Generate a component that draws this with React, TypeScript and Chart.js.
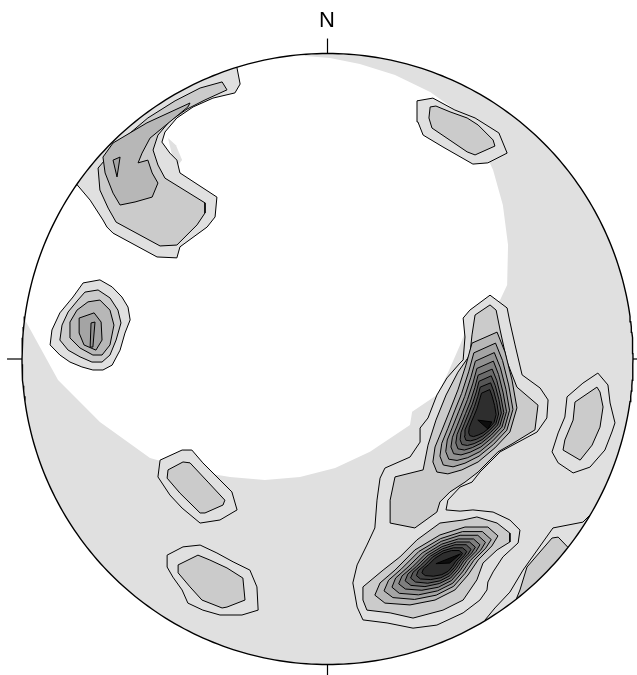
import React, { useEffect, useRef } from 'react';
import { Chart, registerables } from 'chart.js';

Chart.register(...registerables);

type Pt = [number, number];

// Stereonet coordinates: primitive circle radius = 100, centre = (0, 0), north up.
const NORTH_LABEL = 'N';

// Region below the lowest density level (white)
const whiteRegion: Pt[] = [[-9.0,117.5],[-7.4,99.2],[0.8,98.5],[10.6,96.6],[22.1,93.0],[33.6,87.4],[42.7,80.9],[49.3,72.3],[54.2,61.9],[57.4,50.4],[59.1,37.3],[58.8,24.2],[56.5,19.3],[46.6,12.8],[43.4,4.6],[39.1,-5.2],[35.8,-11.8],[27.7,-17.3],[27.0,-21.6],[13.9,-30.4],[2.5,-35.7],[-9.0,-38.6],[-20.5,-39.6],[-31.9,-38.6],[-41.7,-37.0],[-58.1,-32.4],[-74.5,-20.6],[-88.2,-6.9],[-99.0,12.8],[-115,20],[-115,118]];
const ulShadow: Pt[] = [[-52.2,72.3],[-49.6,70.0],[-47.6,65.1],[-48.9,63.5],[-50.9,66.8]];

// Upper-left cluster (NW)
const ulL1: Pt[] = [[-82.7,57.9],[-87.6,68.4],[-58.1,97.9],[-30.0,97.2],[-28.6,90.0],[-30.3,87.1],[-37.5,85.4],[-44.0,82.5],[-49.3,78.9],[-53.2,74.3],[-54.2,71.0],[-51.6,67.4],[-49.3,65.1],[-48.3,60.9],[-36.2,53.0],[-36.8,46.5],[-39.4,43.2],[-48.3,36.7],[-49.3,33.1],[-55.8,33.4],[-70.2,41.2],[-72.2,43.2],[-73.5,45.5],[-77.7,52.0]];
const ulL2: Pt[] = [[-75.1,62.5],[-67.3,71.7],[-58.8,78.9],[-49.9,84.5],[-41.7,88.7],[-34.5,90.7],[-32.9,88.1],[-40.1,84.8],[-46.0,81.8],[-51.6,77.9],[-55.5,73.3],[-57.1,68.4],[-55.5,63.5],[-53.2,59.2],[-40.1,51.1],[-40.1,47.8],[-42.7,43.9],[-49.3,37.3],[-54.8,37.0],[-69.2,44.8],[-71.8,49.4],[-74.5,55.3]];
const ulL3: Pt[] = [[-73.5,66.1],[-70.2,70.7],[-59.1,77.3],[-45.0,83.8],[-45.7,82.5],[-58.1,72.3],[-60.7,67.4],[-62.0,64.2],[-58.8,65.1],[-57.4,60.9],[-55.5,57.6],[-57.4,53.0],[-63.0,51.4],[-67.9,50.4],[-70.2,54.3],[-72.8,60.9]];
const ulL4: Pt[] = [[-70.2,65.1],[-67.9,66.1],[-68.9,59.6]];

// North-east small cluster
const trL1: Pt[] = [[29.3,84.5],[34.5,85.4],[41.7,81.5],[48.3,78.9],[56.1,74.0],[58.8,67.4],[52.5,64.2],[47.6,63.8],[37.8,69.4],[31.3,73.3],[29.6,77.6]];
const trL2: Pt[] = [[33.6,82.5],[35.5,82.8],[40.1,80.9],[45.7,78.9],[49.3,76.6],[54.2,71.7],[54.8,69.7],[48.3,66.8],[45.7,67.8],[34.2,75.6],[33.2,78.9]];

// West cluster
const wL1: Pt[] = [[-80.0,24.9],[-74.5,25.9],[-70.5,23.6],[-67.3,20.3],[-65.3,17.0],[-64.6,12.8],[-66.3,8.5],[-67.9,2.9],[-70.5,-2.0],[-73.5,-3.6],[-76.8,-3.6],[-80.4,-2.6],[-84.3,-1.0],[-87.6,1.3],[-90.8,4.6],[-90.2,9.5],[-87.6,15.1],[-83.3,20.3]];
const wL2: Pt[] = [[-79.4,21.9],[-75.1,22.6],[-71.2,20.0],[-68.6,16.0],[-67.6,11.8],[-69.2,6.2],[-71.2,1.3],[-73.8,-1.0],[-77.1,-1.0],[-81.0,0.7],[-84.9,2.9],[-87.6,6.2],[-86.9,11.1],[-84.9,15.4],[-81.7,19.3]];
const wL3: Pt[] = [[-78.4,18.7],[-74.5,19.3],[-71.2,16.0],[-69.9,11.1],[-71.2,4.6],[-73.8,1.3],[-76.8,1.3],[-81.0,3.6],[-84.3,6.9],[-84.3,12.1],[-82.0,16.0]];
const wL4: Pt[] = [[-81.3,13.4],[-76.4,15.1],[-74.1,12.1],[-73.8,6.2],[-75.8,2.9],[-79.7,4.6],[-81.3,8.5]];
const wL5: Pt[] = [[-77.4,11.8],[-76.1,12.1],[-76.8,3.9],[-77.7,3.9]];

// Main east cluster, joined at level 1 with the south-east cluster
const cL1: Pt[] = [[53.2,20.9],[58.8,16.7],[59.7,12.1],[61.4,4.6],[63.7,-5.2],[69.6,-9.5],[72.2,-13.4],[71.8,-19.3],[68.6,-23.9],[56.5,-30.4],[49.9,-37.0],[47.3,-40.3],[43.4,-41.9],[39.4,-46.2],[38.8,-49.4],[43.4,-49.8],[47.6,-49.4],[54.2,-50.1],[59.7,-52.7],[63.0,-56.0],[62.4,-60.2],[57.4,-64.8],[54.2,-69.7],[52.5,-73.0],[52.2,-75.6],[49.9,-78.9],[44.4,-83.1],[35.8,-87.1],[28.0,-88.1],[19.5,-86.4],[11.6,-85.4],[9.7,-81.2],[8.3,-73.3],[9.7,-67.4],[12.9,-60.9],[15.5,-55.3],[16.2,-46.2],[17.2,-39.0],[18.8,-35.7],[27.0,-32.1],[30.3,-27.2],[30.3,-22.6],[32.9,-19.3],[35.8,-11.8],[39.1,-6.2],[43.4,-1.3],[44.4,-0.3],[45.0,7.2],[44.4,13.4],[46.6,16.0]];
const cL2: Pt[] = [[53.2,17.7],[55.2,16.0],[56.5,9.5],[58.8,-1.0],[62.0,-9.2],[68.9,-15.1],[67.9,-23.2],[60.4,-27.8],[55.8,-30.4],[49.3,-37.0],[45.0,-40.3],[40.1,-43.5],[36.8,-46.8],[35.8,-50.1],[28.6,-55.3],[20.5,-53.7],[20.5,-46.2],[22.1,-38.6],[31.3,-36.3],[32.9,-28.2],[35.5,-20.0],[38.8,-11.8],[42.7,-4.3],[46.6,1.3],[47.3,7.9],[48.3,14.4]];
const cL3: Pt[] = [[47.3,5.2],[55.5,8.8],[58.1,2.3],[60.4,-6.9],[62.0,-16.0],[59.7,-23.9],[54.8,-29.1],[49.3,-33.7],[44.0,-36.3],[39.4,-37.6],[35.8,-37.0],[34.5,-33.7],[35.2,-28.8],[37.5,-23.2],[40.1,-16.7],[42.7,-10.1],[45.3,-2.0]];
const cL4: Pt[] = [[47.9,2.0],[55.0,5.2],[57.3,-0.5],[59.3,-8.5],[60.7,-16.5],[58.7,-23.3],[54.4,-27.9],[49.6,-31.8],[45.0,-34.1],[41.1,-35.3],[37.9,-34.7],[36.8,-31.8],[37.4,-27.6],[39.4,-22.7],[41.6,-17.0],[43.9,-11.3],[46.2,-4.2]];
const cL5: Pt[] = [[48.4,-0.7],[54.6,2.1],[56.6,-2.9],[58.4,-9.9],[59.6,-16.8],[57.9,-22.8],[54.1,-26.8],[49.9,-30.3],[45.9,-32.3],[42.4,-33.2],[39.7,-32.8],[38.7,-30.3],[39.2,-26.5],[40.9,-22.3],[42.9,-17.3],[44.9,-12.3],[46.9,-6.1]];
const cL6: Pt[] = [[48.9,-3.1],[54.3,-0.7],[56.0,-5.1],[57.5,-11.1],[58.6,-17.2],[57.1,-22.3],[53.8,-25.8],[50.2,-28.8],[46.7,-30.5],[43.7,-31.4],[41.3,-31.0],[40.4,-28.8],[40.9,-25.6],[42.4,-21.9],[44.1,-17.6],[45.8,-13.3],[47.6,-7.9]];
const cL7: Pt[] = [[49.3,-5.3],[53.9,-3.3],[55.4,-7.0],[56.7,-12.2],[57.7,-17.5],[56.4,-21.9],[53.6,-24.9],[50.4,-27.5],[47.4,-29.0],[44.8,-29.8],[42.7,-29.4],[42.0,-27.5],[42.4,-24.7],[43.7,-21.6],[45.2,-17.8],[46.7,-14.1],[48.2,-9.4]];
const cL8: Pt[] = [[49.6,-7.3],[53.6,-5.5],[54.9,-8.7],[56.1,-13.2],[56.9,-17.7],[55.7,-21.6],[53.3,-24.1],[50.6,-26.4],[48.0,-27.7],[45.8,-28.3],[44.0,-28.0],[43.4,-26.4],[43.7,-24.0],[44.8,-21.2],[46.1,-18.0],[47.4,-14.8],[48.7,-10.8]];
const cL9: Pt[] = [[50.0,-9.2],[53.4,-7.8],[54.4,-10.5],[55.4,-14.2],[56.0,-18.0],[55.1,-21.2],[53.1,-23.3],[50.8,-25.2],[48.7,-26.3],[46.8,-26.8],[45.3,-26.6],[44.8,-25.2],[45.0,-23.2],[46.0,-20.9],[47.1,-18.2],[48.1,-15.6],[49.2,-12.2]];
const cL10: Pt[] = [[50.4,-11.2],[53.1,-10.0],[53.9,-12.2],[54.7,-15.2],[55.2,-18.2],[54.5,-20.8],[52.9,-22.6],[51.0,-24.1],[49.3,-24.9],[47.8,-25.4],[46.6,-25.1],[46.2,-24.1],[46.4,-22.4],[47.1,-20.6],[48.0,-18.5],[48.9,-16.3],[49.7,-13.6]];
const cL11: Pt[] = [[49.2,-20.0],[53.8,-20.6],[52.5,-22.9]];

// East small cluster
const rL1: Pt[] = [[88.5,-4.6],[91.8,-8.5],[92.5,-14.4],[94.1,-20.9],[93.1,-23.9],[90.8,-29.8],[85.9,-35.4],[80.4,-37.3],[75.5,-34.0],[73.5,-30.4],[75.5,-24.2],[77.7,-19.0],[78.4,-12.4],[83.6,-7.9]];
const rL2: Pt[] = [[88.2,-9.2],[89.2,-10.8],[90.2,-15.7],[89.2,-22.3],[86.6,-28.2],[82.7,-33.1],[77.1,-29.8],[77.7,-26.5],[80.4,-20.0],[81.0,-14.1]];

// South-west small clusters
const bl1L1: Pt[] = [[-54.8,-33.1],[-47.6,-29.8],[-44.4,-29.8],[-40.8,-34.0],[-31.3,-43.5],[-29.6,-49.4],[-35.2,-52.7],[-41.7,-53.7],[-47.6,-48.8],[-51.6,-44.5],[-55.5,-38.6]];
const bl1L2: Pt[] = [[-52.2,-36.3],[-47.3,-33.7],[-45.0,-34.0],[-39.1,-40.3],[-33.6,-46.2],[-34.2,-47.8],[-40.1,-50.4],[-41.7,-50.4],[-48.3,-43.9],[-52.5,-39.0]];
const bl2L1: Pt[] = [[-52.5,-64.2],[-47.3,-61.5],[-41.7,-60.9],[-36.2,-63.5],[-30.9,-66.4],[-25.4,-69.1],[-23.1,-74.6],[-22.7,-82.2],[-28.0,-83.8],[-35.2,-83.8],[-40.8,-82.2],[-45.7,-79.9],[-47.6,-75.6],[-50.6,-71.4],[-52.5,-68.1]];
const bl2L2: Pt[] = [[-48.9,-67.4],[-42.4,-64.2],[-38.5,-65.8],[-32.9,-68.4],[-27.7,-71.7],[-27.0,-78.9],[-32.9,-81.2],[-34.5,-81.5],[-41.1,-78.9],[-45.0,-74.6],[-48.9,-70.0]];

// South-east cluster
const bL2: Pt[] = [[36.8,-53.7],[44.4,-52.7],[48.9,-51.7],[55.5,-53.7],[59.7,-57.0],[59.7,-59.9],[55.5,-62.5],[50.9,-66.8],[48.9,-72.3],[44.4,-78.9],[37.8,-82.2],[28.0,-84.8],[20.5,-83.1],[12.9,-82.2],[11.6,-78.9],[11.6,-74.6],[18.2,-69.1],[23.7,-64.8],[29.3,-59.2]];
const bL3: Pt[] = [[22.1,-69.1],[28.6,-62.5],[36.8,-57.6],[45.0,-55.0],[52.5,-55.0],[55.8,-57.9],[53.8,-61.2],[49.3,-65.8],[46.0,-70.7],[41.7,-75.6],[35.2,-78.9],[27.0,-80.5],[18.8,-79.9],[15.5,-77.3],[17.2,-73.3]];
const bL4: Pt[] = [[24.2,-68.7],[29.9,-63.0],[37.0,-58.8],[44.2,-56.5],[50.7,-56.5],[53.6,-59.1],[51.8,-61.9],[47.9,-65.9],[45.0,-70.2],[41.3,-74.4],[35.6,-77.3],[28.5,-78.7],[21.4,-78.1],[18.5,-75.9],[20.0,-72.4]];
const bL5: Pt[] = [[26.0,-68.4],[31.0,-63.5],[37.2,-59.7],[43.4,-57.7],[49.2,-57.7],[51.7,-60.0],[50.2,-62.5],[46.7,-66.0],[44.2,-69.7],[41.0,-73.4],[36.0,-75.9],[29.8,-77.2],[23.5,-76.7],[21.1,-74.7],[22.3,-71.7]];
const bL6: Pt[] = [[27.7,-68.2],[32.0,-63.9],[37.4,-60.6],[42.8,-58.9],[47.8,-58.9],[49.9,-60.8],[48.6,-63.0],[45.6,-66.0],[43.4,-69.3],[40.6,-72.5],[36.3,-74.7],[30.9,-75.7],[25.5,-75.3],[23.3,-73.6],[24.4,-71.0]];
const bL7: Pt[] = [[29.1,-67.9],[32.9,-64.2],[37.5,-61.4],[42.2,-59.9],[46.5,-59.9],[48.4,-61.6],[47.2,-63.5],[44.6,-66.1],[42.8,-68.9],[40.3,-71.7],[36.6,-73.5],[31.9,-74.5],[27.3,-74.1],[25.4,-72.6],[26.3,-70.4]];
const bL8: Pt[] = [[30.4,-67.7],[33.7,-64.5],[37.7,-62.1],[41.7,-60.8],[45.4,-60.8],[47.0,-62.3],[46.0,-63.9],[43.8,-66.1],[42.2,-68.5],[40.1,-70.9],[36.9,-72.6],[32.8,-73.4],[28.8,-73.0],[27.2,-71.7],[28.0,-69.8]];
const bL9: Pt[] = [[31.8,-67.5],[34.4,-64.8],[37.8,-62.8],[41.2,-61.8],[44.2,-61.8],[45.6,-63.0],[44.8,-64.3],[42.9,-66.2],[41.6,-68.2],[39.8,-70.2],[37.1,-71.6],[33.8,-72.2],[30.4,-72.0],[29.1,-70.9],[29.7,-69.3]];
const bL10: Pt[] = [[33.1,-67.3],[35.2,-65.2],[37.9,-63.5],[40.6,-62.7],[43.1,-62.7],[44.2,-63.6],[43.5,-64.7],[42.0,-66.2],[40.9,-67.9],[39.5,-69.5],[37.4,-70.6],[34.7,-71.1],[32.0,-70.9],[30.9,-70.0],[31.4,-68.7]];
const bL11: Pt[] = [[35.5,-67.0],[43.5,-63.8],[40.0,-66.8]];

// Rim cluster (SE edge)
const brL1: Pt[] = [[102.3,-36.3],[89.2,-47.8],[83.6,-53.4],[73.8,-55.3],[64.0,-69.1],[59.7,-76.3],[54.8,-81.5],[51.6,-85.4],[53.2,-93.6],[102.3,-92.0]];
const brL2: Pt[] = [[82.7,-65.8],[75.5,-58.3],[73.5,-58.6],[65.3,-68.1],[63.0,-75.6],[59.7,-83.8],[89.2,-92.0]];

// Contour level of each polygon
const contourLevels: number[] = [1, 2, 3, 4, 1, 2, 1, 2, 3, 4, 5, 1, 2, 3, 4, 5, 6, 7, 8, 9, 10, 11, 1, 2, 1, 2, 1, 2, 2, 3, 4, 5, 6, 7, 8, 9, 10, 11, 1, 2];
const contourPolygons: Pt[][] = [ulL1, ulL2, ulL3, ulL4, trL1, trL2, wL1, wL2, wL3, wL4, wL5, cL1, cL2, cL3, cL4, cL5, cL6, cL7, cL8, cL9, cL10, cL11, rL1, rL2, bl1L1, bl1L2, bl2L1, bl2L2, bL2, bL3, bL4, bL5, bL6, bL7, bL8, bL9, bL10, bL11, brL1, brL2];

const levelColors: string[] = ['#e0e0e0', '#e0e0e0', '#cbcbcb', '#b7b7b7', '#a4a4a4', '#919191', '#7e7e7e', '#6a6a6a', '#565656', '#424242', '#2e2e2e', '#0e0e0e'];

// Layout (pixels)
const W = 637;
const H = 675;
const CX = 327.5;
const CY = 359;
const RPX = 305.5;
const TITLE_H = 38;
const PAD_L = 17;
const UNIT = RPX / 100;

const toXY = (pts: Pt[], close = true) => {
  const arr = pts.map(([x, y]) => ({ x, y }));
  if (close && pts.length) arr.push({ x: pts[0][0], y: pts[0][1] });
  return arr;
};

const circlePts = (r: number, from: number, to: number, step: number): Pt[] => {
  const out: Pt[] = [];
  const n = Math.round(Math.abs(to - from) / step);
  for (let i = 0; i <= n; i++) {
    const a = ((from + (to - from) * (i / n)) * Math.PI) / 180;
    out.push([r * Math.cos(a), r * Math.sin(a)]);
  }
  return out;
};

export default function App() {
  const ref = useRef<HTMLCanvasElement>(null);

  useEffect(() => {
    if (!ref.current) return;
    const base = { pointRadius: 0, pointHoverRadius: 0, tension: 0 } as any;
    const datasets: any[] = [];

    datasets.push({ ...base, data: toXY(circlePts(100, 0, 360, 2)), fill: 'shape', backgroundColor: '#e0e0e0', borderColor: 'rgba(0,0,0,0)', borderWidth: 0, order: 1000 });
    datasets.push({ ...base, data: toXY(whiteRegion), fill: 'shape', backgroundColor: '#ffffff', borderColor: 'rgba(0,0,0,0)', borderWidth: 0, order: 990 });
    datasets.push({ ...base, data: toXY(ulShadow), fill: 'shape', backgroundColor: '#e0e0e0', borderColor: 'rgba(0,0,0,0)', borderWidth: 0, order: 985 });

    contourPolygons.forEach((poly, i) => {
      const lvl = contourLevels[i];
      datasets.push({ ...base, data: toXY(poly), fill: 'shape', backgroundColor: levelColors[lvl], borderColor: '#000000', borderWidth: 1, order: 900 - lvl * 10 });
    });

    // white mask outside the primitive circle
    const mask: Pt[] = [[-130, 0], [-130, -130], [130, -130], [130, 130], [-130, 130], [-130, 0], ...circlePts(100, 180, -180, 2)];
    datasets.push({ ...base, data: toXY(mask), fill: 'shape', backgroundColor: '#ffffff', borderColor: 'rgba(0,0,0,0)', borderWidth: 0, order: 20 });

    datasets.push({ ...base, data: toXY(circlePts(100, 0, 360, 1)), fill: false, borderColor: '#000000', borderWidth: 1.4, order: 10, clip: false });

    const tickLen = 104.9;
    const ticks: Pt[][] = [[[0, 100], [0, tickLen]], [[0, -100], [0, -tickLen]], [[100, 0], [tickLen, 0]], [[-100, 0], [-tickLen, 0]]];
    ticks.forEach((t) => datasets.push({ ...base, data: toXY(t, false), fill: false, borderColor: '#000000', borderWidth: 1.2, order: 5, clip: false }));

    const chart = new Chart(ref.current, {
      type: 'line',
      data: { datasets },
      options: {
        responsive: false,
        animation: false,
        events: [],
        layout: { padding: { left: PAD_L, right: 0, top: 0, bottom: 0 } },
        plugins: {
          legend: { display: false },
          tooltip: { enabled: false },
          title: {
            display: true,
            text: NORTH_LABEL,
            color: '#000000',
            font: { family: "'Liberation Sans Narrow', 'Liberation Sans', Arial, sans-serif", size: 22, weight: 'normal', lineHeight: 1.2 },
            padding: { top: 8, bottom: TITLE_H - 8 - 22 * 1.2 },
          },
        },
        scales: {
          x: { type: 'linear', display: false, min: -(CX - PAD_L) / UNIT, max: (W - CX) / UNIT },
          y: { type: 'linear', display: false, min: -(H - CY) / UNIT, max: (CY - TITLE_H) / UNIT },
        },
      } as any,
    });
    return () => chart.destroy();
  }, []);

  return (
    <div style={{ position: 'fixed', left: 0, top: 0, width: W, height: H, background: '#ffffff' }}>
      <canvas ref={ref} width={W} height={H} style={{ display: 'block' }} />
    </div>
  );
}
